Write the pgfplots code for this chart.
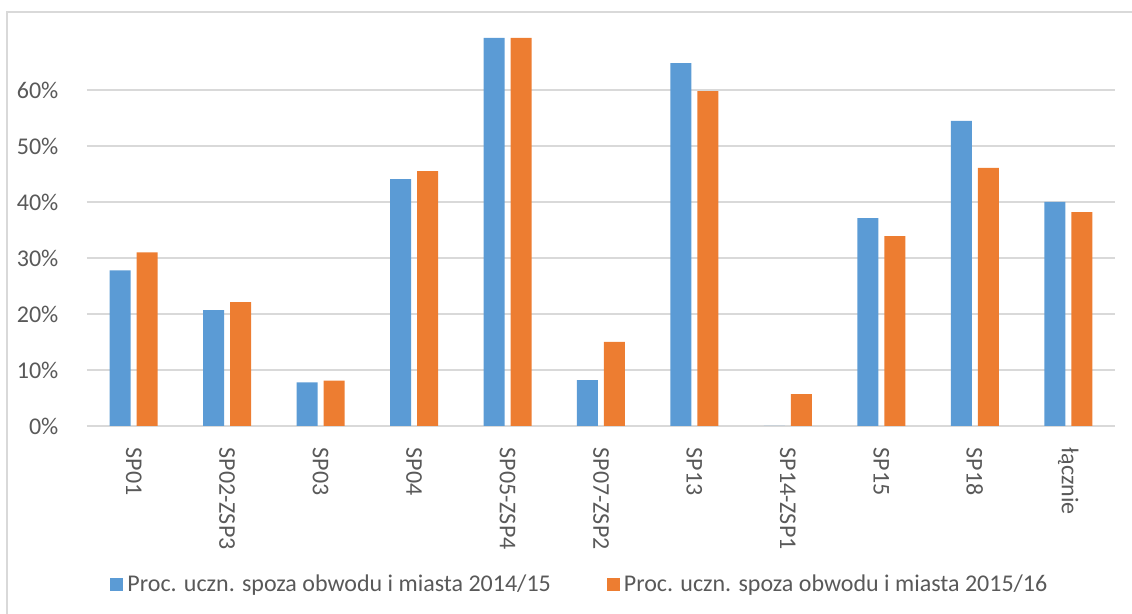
\documentclass[border=0pt]{standalone}
\usepackage{fontspec}
\setmainfont{Carlito}
\usepackage{pgfplots}
\pgfplotsset{compat=1.18}
\definecolor{blueS}{HTML}{5B9BD5}
\definecolor{orangeS}{HTML}{ED7D31}
\definecolor{txt}{HTML}{595959}
\definecolor{gridc}{HTML}{D9D9D9}

\begin{document}
\fontsize{12}{14}\selectfont
\begin{tikzpicture}
\clip (0pt,0pt) rectangle (566pt,307pt);
\draw[gridc, line width=0.6pt] (3.5pt,-10pt) rectangle (600pt,301pt);
\begin{axis}[
  at={(43.5pt,94pt)}, anchor=south west,
  scale only axis, width=514pt, height=196pt,
  ybar=3pt, bar width=10.5pt,
  xmin=-0.5, xmax=10.5, ymin=0, ymax=70,
  xtick=data,
  xticklabels={SP01,SP02-ZSP3,SP03,SP04,SP05-ZSP4,SP07-ZSP2,SP13,SP14-ZSP1,SP15,SP18,łącznie},
  x tick label style={rotate=-90, anchor=west, inner sep=0pt, text=txt},
  xticklabel shift=8.5pt,
  ytick={0,10,...,60},
  yticklabel={\pgfmathprintnumber{\tick}\%},
  y tick label style={inner sep=0pt, text=txt},
  yticklabel shift=12pt,
  /pgf/number format/assume math mode=true,
  ymajorgrids, grid style={gridc, line width=0.75pt},
  axis lines=left, axis line style={draw=none,-},
  tick style={draw=none},
  legend style={at={(0.4805,-0.405)}, anchor=center, draw=none, fill=none,
    inner sep=0pt, legend columns=2, text=txt,
    /tikz/every even column/.append style={column sep=26pt}},
  legend image code/.code={\fill[#1] (0pt,-3.25pt) rectangle (6.5pt,3.25pt);},
]
\addplot[fill=blueS, draw=none] coordinates {
  (0,27.8) (1,20.7) (2,7.8) (3,44.1) (4,69.3) (5,8.2)
  (6,64.8) (7,0) (8,37.1) (9,54.5) (10,40.0)};
\addplot[fill=orangeS, draw=none] coordinates {
  (0,31.0) (1,22.1) (2,8.1) (3,45.5) (4,69.3) (5,15.0)
  (6,59.8) (7,5.7) (8,33.9) (9,46.1) (10,38.2)};
\legend{Proc. uczn. spoza obwodu i miasta 2014/15, Proc. uczn. spoza obwodu i miasta 2015/16}
\end{axis}
\end{tikzpicture}
\end{document}
